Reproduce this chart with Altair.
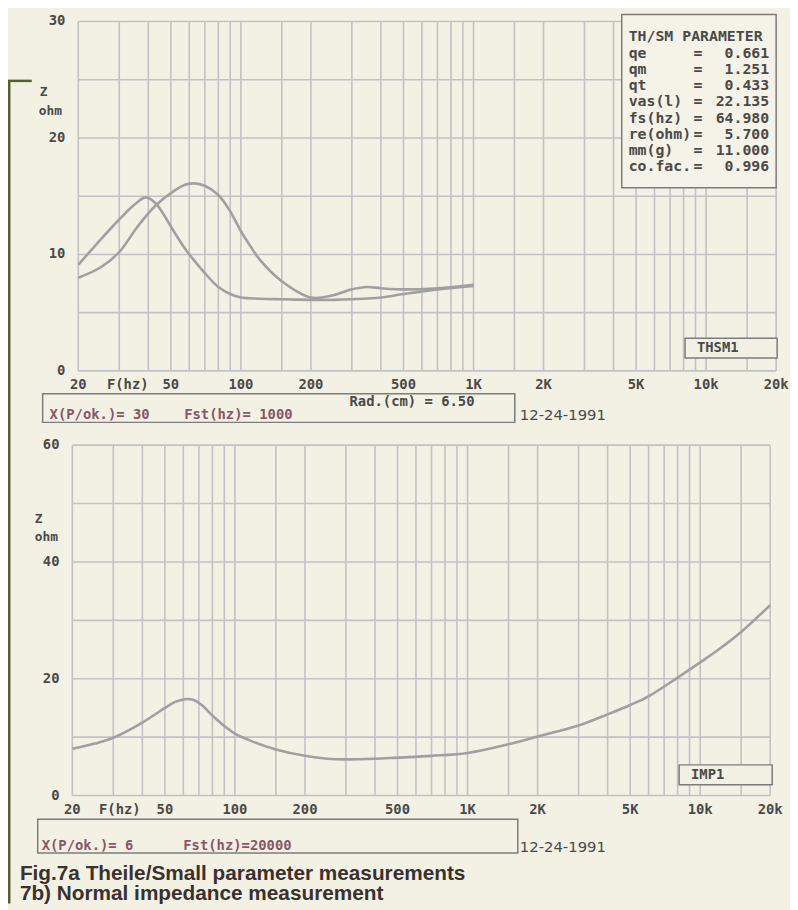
import altair as alt
import pandas as pd

# ---------------- data ----------------
# Fig 7a: two impedance sweeps (free air and with added mass), 20 Hz .. 1 kHz
TOP_F_A = [20, 25, 30, 35, 39, 43, 46, 50, 58, 70, 80, 90, 100, 120, 150, 200, 250, 300, 400, 500, 700, 1000]
TOP_Z_A = [9.1, 11.3, 13.0, 14.3, 14.9, 14.4, 13.6, 12.4, 10.4, 8.4, 7.2, 6.6, 6.3, 6.2, 6.15, 6.1, 6.1, 6.15, 6.3, 6.6, 7.0, 7.3]
TOP_F_B = [20, 25, 30, 36, 43, 52, 58, 63, 70, 80, 90, 100, 110, 120, 150, 200, 250, 300, 350, 400, 500, 700, 1000]
TOP_Z_B = [8.0, 8.9, 10.2, 12.4, 14.2, 15.5, 16.0, 16.1, 15.9, 15.1, 13.7, 12.0, 10.7, 9.6, 7.7, 6.3, 6.5, 7.0, 7.2, 7.1, 7.0, 7.1, 7.4]

# Fig 7b: normal impedance sweep 20 Hz .. 20 kHz
BOT_F = [20, 25, 30, 40, 50, 55, 61, 66, 72, 80, 90, 100, 120, 150, 200, 250, 300, 400, 500, 700,
         1000, 1500, 2000, 3000, 4000, 5000, 6000, 8000, 10000, 12000, 15000, 20000]
BOT_Z = [8.0, 8.9, 9.9, 12.5, 15.0, 16.0, 16.5, 16.4, 15.5, 13.7, 11.9, 10.6, 9.2, 7.9, 6.8, 6.3, 6.2, 6.3, 6.5, 6.8,
         7.3, 8.8, 10.1, 12.0, 13.9, 15.5, 17.0, 20.2, 22.8, 25.0, 28.0, 32.6]

GRID_F = [20, 30, 40, 50, 60, 70, 80, 90, 100, 150, 200, 300, 400, 500, 600, 700, 800, 900,
          1000, 1500, 2000, 3000, 4000, 5000, 6000, 7000, 8000, 9000, 10000, 15000, 20000]
TICK_F = [20, 50, 100, 200, 500, 1000, 2000, 5000, 10000, 20000]
TICK_LBL = ["20", "50", "100", "200", "500", "1K", "2K", "5K", "10k", "20k"]

TOP_HGRID = [0, 5, 10, 15, 20, 25, 30]
TOP_YTICK = [0, 10, 20, 30]
BOT_HGRID = [0, 10, 20, 30, 40, 50, 60]
BOT_YTICK = [0, 20, 40, 60]

PARAM_NAMES = ["qe", "qm", "qt", "vas(l)", "fs(hz)", "re(ohm)", "mm(g)", "co.fac."]
PARAM_VALUES = ["0.661", "1.251", "0.433", "22.135", "64.980", "5.700", "11.000", "0.996"]

# ---------------- style ----------------
BG = "#f3f0e4"
GRID = "#c2c2c4"
CURVE = "#a0a0a0"
INK = "#4a4a4a"
PINK = "#8a5668"
MONO = "DejaVu Sans Mono"

XT = [71, 776]
YT = [362, 9]
XB = [65, 770]
YB = [791, 437]


def xs(rng):
    return alt.Scale(type="log", domain=[20, 20000], range=rng, nice=False)


def ys(dom, rng):
    return alt.Scale(type="linear", domain=dom, range=rng, nice=False, zero=False)


ONE = pd.DataFrame({"k": [0]})
layers = []


def plot_layers(xr, yr, ydom, hgrid, yticks, series, tick_y, ylab_x):
    X = lambda f: alt.X(f, type="quantitative", scale=xs(xr), axis=None)
    Y = lambda f: alt.Y(f, type="quantitative", scale=ys(ydom, yr), axis=None)
    vg = pd.DataFrame({"f": GRID_F, "z0": ydom[0], "z1": ydom[1]})
    hg = pd.DataFrame({"z": hgrid, "f0": 20, "f1": 20000})
    out = [
        alt.Chart(vg).mark_rule(color=GRID, strokeWidth=1.6).encode(x=X("f"), y=Y("z0"), y2="z1:Q"),
        alt.Chart(hg).mark_rule(color=GRID, strokeWidth=1.6).encode(y=Y("z"), x=X("f0"), x2="f1:Q"),
    ]
    for fs, zs in series:
        d = pd.DataFrame({"f": fs, "z": zs})
        out.append(alt.Chart(d).mark_line(color=CURVE, strokeWidth=2.6, interpolate="catmull-rom")
                   .encode(x=X("f"), y=Y("z")))
    tl = pd.DataFrame({"f": TICK_F, "label": TICK_LBL})
    out.append(alt.Chart(tl).mark_text(font=MONO, fontWeight="bold", fontSize=14, color=INK,
                                       align="center", baseline="middle")
               .encode(x=X("f"), y=alt.value(tick_y), text="label:N"))
    yl = pd.DataFrame({"z": yticks, "label": [str(v) for v in yticks]})
    out.append(alt.Chart(yl).mark_text(font=MONO, fontWeight="bold", fontSize=14, color=INK,
                                       align="right", baseline="middle")
               .encode(y=Y("z"), x=alt.value(ylab_x), text="label:N"))
    return out


layers += plot_layers(XT, YT, [0, 30], TOP_HGRID, TOP_YTICK,
                      [(TOP_F_A, TOP_Z_A), (TOP_F_B, TOP_Z_B)], 376, 58)
layers += plot_layers(XB, YB, [0, 60], BOT_HGRID, BOT_YTICK,
                      [(BOT_F, BOT_Z)], 806, 52)


def text(s, x, y, size=14, color=INK, font=MONO, weight="bold", align="left"):
    return alt.Chart(ONE).mark_text(text=s, font=font, fontWeight=weight, fontSize=size, color=color,
                                    align=align, baseline="middle").encode(x=alt.value(x), y=alt.value(y))


def box(x1, x2, y1, y2, fill=BG, stroke="#7c7c7c", sw=1.5):
    return alt.Chart(ONE).mark_rect(fill=fill, stroke=stroke, strokeWidth=sw).encode(
        x=alt.value(x1), x2=alt.value(x2), y=alt.value(y1), y2=alt.value(y2))


# axis captions
layers += [
    text("Z", 32, 80, size=13), text("ohm", 31, 99, size=13),
    text("Z", 27, 512, size=13), text("ohm", 27, 530, size=13),
    text("F(hz)", 121, 376, align="center"),
    text("F(hz)", 113, 806, align="center"),
]

# parameter box
layers.append(box(620, 776, 2, 177, fill="#f5f2e8"))
layers.append(text("TH/SM PARAMETER", 627, 24, size=15))
pdf = pd.DataFrame({"name": PARAM_NAMES, "value": PARAM_VALUES})
PY = alt.Y("name:N", sort=PARAM_NAMES, scale=alt.Scale(type="point", range=[41, 155], padding=0), axis=None)
layers.append(alt.Chart(pdf).mark_text(font=MONO, fontWeight="bold", fontSize=15, color=INK,
                                       align="left", baseline="middle")
              .encode(y=PY, x=alt.value(627), text="name:N"))
layers.append(alt.Chart(pdf).mark_text(text="=", font=MONO, fontWeight="bold", fontSize=15, color=INK,
                                       align="center", baseline="middle")
              .encode(y=PY, x=alt.value(697)))
layers.append(alt.Chart(pdf).mark_text(font=MONO, fontWeight="bold", fontSize=15, color=INK,
                                       align="right", baseline="middle")
              .encode(y=PY, x=alt.value(769), text="value:N"))

# curve tags
layers += [
    box(684, 777, 329, 349), text("THSM1", 696, 339),
    box(678, 772, 760, 780), text("IMP1", 690, 770),
]

# info boxes under the plots
layers += [
    box(35, 512, 385, 414, fill=BG),
    text("Rad.(cm)   = 6.50", 345, 393),
    text("X(P/ok.)= 30", 42, 407, color=PINK),
    text("Fst(hz)= 1000", 178, 407, color=PINK),
    text("12-24-1991", 517, 407, font="DejaVu Sans", weight="normal", size=15),
    box(30, 515, 815, 849, fill=BG),
    text("X(P/ok.)= 6", 34, 842, color=PINK),
    text("Fst(hz)=20000", 177, 842, color=PINK),
    text("12-24-1991", 517, 843, font="DejaVu Sans", weight="normal", size=15),
]

# figure caption
CAP = "Liberation Sans Narrow, Liberation Sans"
layers += [
    text("Fig.7a Theile/Small parameter measurements", 12, 870, size=21, color="#3a302e", font=CAP),
    text("7b) Normal impedance measurement", 12, 891, size=21, color="#3a302e", font=CAP),
]

# scan border
layers += [
    alt.Chart(ONE).mark_rule(color="#56602f", strokeWidth=3).encode(
        x=alt.value(1), y=alt.value(68), y2=alt.value(900)),
    alt.Chart(ONE).mark_rule(color="#56602f", strokeWidth=2.5).encode(
        x=alt.value(0), x2=alt.value(24), y=alt.value(69)),
]

chart = (
    alt.layer(*layers)
    .resolve_scale(x="independent", y="independent")
    .properties(width=790, height=902, padding=0,
                autosize=alt.AutoSizeParams(type="none"), background=BG)
    .configure_view(stroke=None)
)

chart.save("out.html", embed_options={"renderer": "svg", "actions": False})
